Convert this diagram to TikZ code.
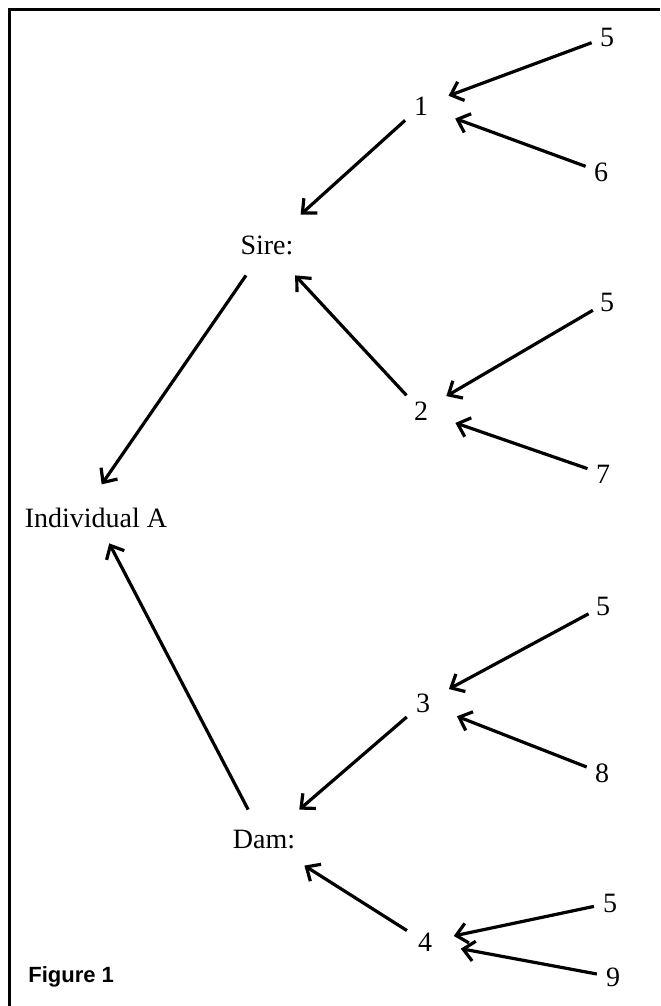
\documentclass[tikz,border=0pt]{standalone}
\usepackage{fontspec}
\setmainfont{Liberation Serif}
\newfontfamily\figfont{Liberation Sans}
\usetikzlibrary{arrows.meta,positioning}

\begin{document}
\begin{tikzpicture}[x=0.5pt, y=-0.5pt,
    word/.style={font=\fontsize{14}{16}\selectfont},
    digit/.style={font=\fontsize{14}{16}\selectfont},
    leaf/.style={digit, circle, inner sep=0pt, minimum size=16pt},
    parent/.style={digit, circle, inner sep=0pt, minimum size=21pt},
    animal/.style={word, rectangle, inner sep=0pt, minimum width=40pt, minimum height=30pt},
    link/.style={-{Straight Barb[length=5.5pt,width=10pt]}, line width=1.6pt},
    linkhi/.style={link, shorten >=4pt},
    linklo/.style={link, shorten >=7.5pt}]
            \useasboundingbox (0,0) rectangle (660,1006);
            % Frame
            \draw[line width=1.5pt] (9,1006) -- (9,10) -- (660,10);

            % Pedigree
            \node[word, rectangle, inner sep=0pt, minimum width=75pt, minimum height=25pt] (inda) at (96,518) {Individual A};

            \node[animal] (sire) at (267,245) {Sire:};
            \node[animal] (dam) at (264,840) {Dam:};

            \node[parent] (n1) at (421,106) {1};
            \node[parent] (n2) at (421,411) {2};
            \node[parent] (n3) at (423,703) {3};
            \node[parent] (n4) at (425,942) {4};

            \node[leaf] (n1a) at (607,37) {5};
            \node[leaf] (n1b) at (601,172) {6};
            \node[leaf] (n2a) at (607,302) {5};
            \node[leaf] (n2b) at (603,474) {7};
            \node[leaf] (n3a) at (603,606) {5};
            \node[leaf] (n3b) at (602,773) {8};
            \node[leaf] (n4a) at (610,903) {5};
            \node[leaf] (n4b) at (613,977) {9};

            \node[anchor=base west, inner sep=0pt, font=\figfont\bfseries\fontsize{11}{13}\selectfont] (fig) at (28,982) {Figure 1};

            \draw[linkhi] (n1a) -- (n1);
            \draw[linklo] (n1b) -- (n1);
            \draw[linkhi] (n2a) -- (n2);
            \draw[linklo] (n2b) -- (n2);
            \draw[linkhi] (n3a) -- (n3);
            \draw[linklo] (n3b) -- (n3);
            \draw[linkhi] (n4a) -- (n4);
            \draw[linklo] (n4b) -- (n4);
            \draw[link] (n1) -- (sire);
            \draw[link] (n2) -- (sire);
            \draw[link] (n3) -- (dam);
            \draw[link] (n4) -- (dam);
            \draw[link, shorten >=5pt] (sire) -- (inda.north);
            \draw[link] (dam) -- (inda);
        \end{tikzpicture}
\end{document}
